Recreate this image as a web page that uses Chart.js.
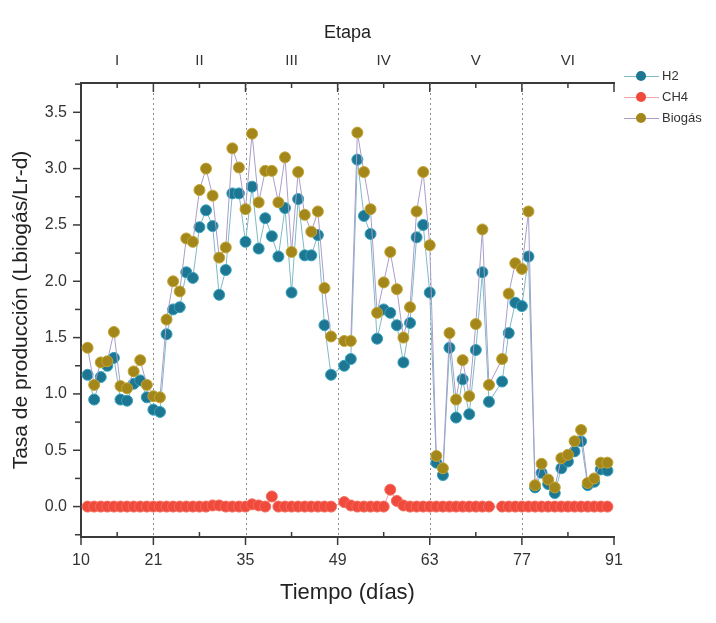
<!DOCTYPE html>
<html lang="es">
<head>
<meta charset="utf-8">
<title>Tasa de producción</title>
<script src="https://cdn.jsdelivr.net/npm/chart.js@4.4.1/dist/chart.umd.min.js"></script>
<style>
    body { margin: 0; background: #fff; }
    .wrap { position: relative; width: 716px; height: 623px; }
    #legend {
        position: absolute; left: 624px; top: 65px;
        font: 13px "Liberation Sans", Arial, sans-serif; color: #333;
    }
    .item { display: flex; align-items: center; height: 21px; }
    .sym { position: relative; width: 35px; height: 12px; margin-right: 3px; }
    .sym .ln { position: absolute; left: 0; right: 0; top: 6px; height: 1px; }
    .sym .dot { position: absolute; left: 12px; top: 1px; width: 10px; height: 10px; border-radius: 50%; }
</style>
</head>
<body>
<div class="wrap">
    <canvas id="chart" width="716" height="623"></canvas>
    <div id="legend"></div>
</div>
<script>
// Days with measurements (day 49 and 73 have no data)
const days = [11, 12, 13, 14, 15, 16, 17, 18, 19, 20, 21, 22, 23, 24, 25, 26, 27, 28, 29, 30,
    31, 32, 33, 34, 35, 36, 37, 38, 39, 40, 41, 42, 43, 44, 45, 46, 47, 48,
    50, 51, 52, 53, 54, 55, 56, 57, 58, 59, 60, 61, 62, 63, 64, 65, 66, 67, 68, 69, 70, 71, 72,
    74, 75, 76, 77, 78, 79, 80, 81, 82, 83, 84, 85, 86, 87, 88, 89, 90];

const h2 = [1.17, 0.95, 1.15, 1.25, 1.32, 0.95, 0.94, 1.09, 1.12, 0.97, 0.86, 0.84, 1.53, 1.75, 1.77, 2.08, 2.03, 2.48, 2.63, 2.49,
    1.88, 2.10, 2.78, 2.78, 2.35, 2.84, 2.29, 2.56, 2.40, 2.22, 2.65, 1.90, 2.73, 2.23, 2.23, 2.41, 1.61, 1.17,
    1.25, 1.31, 3.08, 2.58, 2.42, 1.49, 1.75, 1.72, 1.61, 1.28, 1.63, 2.39, 2.50, 1.90, 0.39, 0.28, 1.41, 0.79, 1.13, 0.82, 1.39, 2.08, 0.93,
    1.11, 1.54, 1.81, 1.78, 2.22, 0.17, 0.30, 0.20, 0.12, 0.34, 0.40, 0.49, 0.58, 0.19, 0.22, 0.33, 0.32];

const ch4 = [0, 0, 0, 0, 0, 0, 0, 0, 0, 0, 0, 0, 0, 0, 0, 0, 0, 0, 0, 0.01,
    0.01, 0, 0, 0, 0, 0.02, 0.01, 0, 0.09, 0, 0, 0, 0, 0, 0, 0, 0, 0,
    0.04, 0.01, 0, 0, 0, 0, 0, 0.15, 0.05, 0.01, 0, 0, 0, 0, 0, 0, 0, 0, 0, 0, 0, 0, 0,
    0, 0, 0, 0, 0, 0, 0, 0, 0, 0, 0, 0, 0, 0, 0, 0, 0];

const biogas = [1.41, 1.08, 1.28, 1.29, 1.55, 1.07, 1.05, 1.20, 1.30, 1.08, 0.98, 0.97, 1.66, 2.00, 1.91, 2.38, 2.35, 2.81, 3.00, 2.76,
    2.21, 2.30, 3.18, 3.01, 2.64, 3.31, 2.70, 2.98, 2.98, 2.70, 3.10, 2.26, 2.97, 2.59, 2.44, 2.62, 1.94, 1.51,
    1.47, 1.47, 3.32, 2.97, 2.64, 1.72, 1.99, 2.26, 1.93, 1.50, 1.77, 2.62, 2.97, 2.32, 0.45, 0.34, 1.54, 0.95, 1.30, 0.98, 1.62, 2.46, 1.08,
    1.31, 1.89, 2.16, 2.11, 2.62, 0.19, 0.38, 0.24, 0.17, 0.43, 0.46, 0.58, 0.68, 0.21, 0.25, 0.39, 0.39];

// Axis ticks
const xTicks = [10, 21, 35, 49, 63, 77, 91];
const stageLabels = ['I', 'II', 'III', 'IV', 'V', 'VI'];
const yTicks = [0.0, 0.5, 1.0, 1.5, 2.0, 2.5, 3.0, 3.5];

const FONT = '"Liberation Sans", Arial, sans-serif';
const AXIS = '#3a3a3a';

// stage labels sit halfway between boundaries
const stageCenters = xTicks.slice(0, -1).map((v, i) => (v + xTicks[i + 1]) / 2);
const yMinor = yTicks.map(v => v + 0.25).concat([-0.25]);

const series = [
    { label: 'H2', values: h2, fill: '#1d7793', edge: '#34a2bd', line: '#7fb9c7', order: 1 },
    { label: 'CH4', values: ch4, fill: '#ef4a3c', edge: '#f36b5c', line: '#f3a4a4', order: 2 },
    { label: 'Biogás', values: biogas, fill: '#a3871b', edge: '#c2a534', line: '#ab9dca', order: 0 }
];

// Dotted stage boundaries under the data
const stageLines = {
    id: 'stageLines',
    beforeDatasetsDraw(chart) {
        const { ctx, chartArea: a, scales: { x } } = chart;
        ctx.save();
        ctx.strokeStyle = '#8d8d8d';
        ctx.lineWidth = 1;
        ctx.setLineDash([2, 3]);
        xTicks.slice(1, -1).forEach(v => {
            const px = Math.round(x.getPixelForValue(v)) + 0.5;
            ctx.beginPath();
            ctx.moveTo(px, a.top);
            ctx.lineTo(px, a.bottom);
            ctx.stroke();
        });
        ctx.restore();
    }
};

// Tick marks (major/minor, inward on top axis)
const tickMarks = {
    id: 'tickMarks',
    afterDraw(chart) {
        const { ctx, chartArea: a, scales: { x, y } } = chart;
        ctx.save();
        ctx.strokeStyle = AXIS;
        ctx.lineWidth = 1.5;
        const seg = (x1, y1, x2, y2) => {
            ctx.beginPath(); ctx.moveTo(x1, y1); ctx.lineTo(x2, y2); ctx.stroke();
        };
        xTicks.forEach(v => {
            const px = x.getPixelForValue(v);
            seg(px, a.bottom, px, a.bottom + 8);
            seg(px, a.top, px, a.top + 9);
        });
        stageCenters.forEach(v => {
            const px = x.getPixelForValue(v);
            seg(px, a.bottom, px, a.bottom - 5);
            seg(px, a.top, px, a.top + 5);
        });
        yTicks.forEach(v => {
            const py = y.getPixelForValue(v);
            seg(a.left - 8, py, a.left, py);
        });
        yMinor.forEach(v => {
            if (v < y.min || v > y.max) return;
            const py = y.getPixelForValue(v);
            seg(a.left - 6, py, a.left, py);
        });
        ctx.restore();
    }
};

const ctx = document.getElementById('chart').getContext('2d');
new Chart(ctx, {
    type: 'line',
    data: {
        datasets: series.map(s => ({
            label: s.label,
            data: days.map((d, i) => ({ x: d, y: s.values[i] })),
            borderColor: s.line,
            borderWidth: 1,
            backgroundColor: s.fill,
            pointBackgroundColor: s.fill,
            pointBorderColor: s.edge,
            pointBorderWidth: 1,
            pointRadius: 5.5,
            tension: 0,
            spanGaps: true,
            order: s.order
        }))
    },
    options: {
        responsive: false,
        devicePixelRatio: 1,
        animation: false,
        layout: { padding: { left: 6, right: 102, top: 0, bottom: 0 } },
        plugins: { legend: { display: false }, tooltip: { enabled: false } },
        scales: {
            x: {
                type: 'linear',
                position: 'bottom',
                min: 10,
                max: 91,
                afterBuildTicks: s => { s.ticks = xTicks.map(v => ({ value: v })); },
                afterFit: s => { s.height = 86; },
                ticks: { font: { family: FONT, size: 16 }, color: '#333', padding: 14, maxRotation: 0, autoSkip: false },
                grid: { display: true, drawOnChartArea: false, drawTicks: false },
                border: { display: true, color: AXIS, width: 2 },
                title: { display: true, text: 'Tiempo (días)', font: { family: FONT, size: 22 }, color: '#222', padding: { top: 0, bottom: 17 } }
            },
            x2: {
                type: 'linear',
                position: 'top',
                min: 10,
                max: 91,
                afterBuildTicks: s => { s.ticks = stageCenters.map(v => ({ value: v })); },
                afterFit: s => { s.height = 83; },
                ticks: {
                    font: { family: FONT, size: 15 }, color: '#333', padding: 13, maxRotation: 0, autoSkip: false,
                    callback: (v, i) => stageLabels[i]
                },
                grid: { display: true, drawOnChartArea: false, drawTicks: false },
                border: { display: true, color: AXIS, width: 2 },
                title: { display: true, text: 'Etapa', font: { family: FONT, size: 18 }, color: '#222', padding: { top: 22, bottom: 0 } }
            },
            y: {
                type: 'linear',
                min: -0.27,
                max: 3.76,
                afterBuildTicks: s => { s.ticks = yTicks.map(v => ({ value: v })); },
                afterFit: s => { s.width = 75; },
                ticks: { font: { family: FONT, size: 16 }, color: '#333', padding: 14, callback: v => v.toFixed(1) },
                grid: { display: true, drawOnChartArea: false, drawTicks: false },
                border: { display: true, color: AXIS, width: 2 },
                title: { display: true, text: 'Tasa de producción (Lbiogás/Lr-d)', font: { family: FONT, size: 21 }, color: '#222', padding: { top: 3, bottom: 2 } }
            }
        }
    },
    plugins: [stageLines, tickMarks]
});

// Legend: line with a dot, like the original
const legend = document.getElementById('legend');
series.forEach(s => {
    const item = document.createElement('div');
    item.className = 'item';
    item.innerHTML = `<span class="sym"><span class="ln" style="background:${s.line}"></span>` +
        `<span class="dot" style="background:${s.fill}"></span></span><span>${s.label}</span>`;
    legend.appendChild(item);
});
</script>
</body>
</html>
